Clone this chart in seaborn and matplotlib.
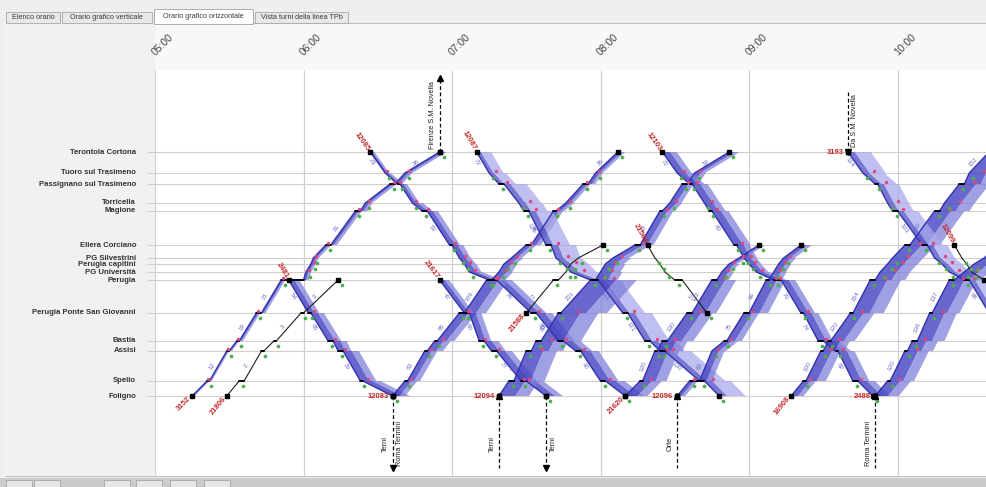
import numpy as np
import pandas as pd
import matplotlib
matplotlib.use("Agg")
import matplotlib.pyplot as plt
import matplotlib.transforms as mtransforms
from matplotlib.patches import Rectangle, Polygon
import seaborn as sns

sns.set_style("white")
plt.rcParams['font.family'] = ['Liberation Sans', 'DejaVu Sans']

# ===========================================================
# DATA
# ===========================================================
STATION_NAMES = ["Foligno", "Spello", "Assisi", "Bastia", "Perugia Ponte San Giovanni",
                 "Perugia", "PG Università", "Perugia capitini", "PG Silvestrini",
                 "Ellera Corciano", "Magione", "Torricella", "Passignano sul Trasimeno",
                 "Tuoro sul Trasimeno", "Terontola Cortona"]
STATION_KEYS = ["FOL", "SPE", "ASS", "BAS", "PSG", "PER", "PGU", "PGC", "PGS",
                "ELL", "MAG", "TOR", "PAS", "TUO", "TER"]
STATION_POS = [0, 15, 45, 55, 83, 116, 124, 132, 138, 151, 185, 193, 212, 223, 244]

HOUR_LABELS = ["05:00", "06:00", "07:00", "08:00", "09:00", "10:00"]
TABS = ["Elenco orario", "Orario grafico verticale", "Orario grafico orizzontale",
        "Vista turni della linea TPb"]

# each train: (station, arrival, departure); loads = passengers on each leg
t3152 = [("FOL", "05:15", "05:15"), ("SPE", "05:21", "05:22"), ("ASS", "05:29", "05:30"),
         ("BAS", "05:33", "05:34"), ("PSG", "05:41", "05:43"), ("PER", "05:51", "06:00"),
         ("PGU", "06:01", "06:01"), ("PGC", "06:03", "06:03"), ("PGS", "06:04", "06:04"),
         ("ELL", "06:09", "06:11"), ("MAG", "06:21", "06:23"), ("TOR", "06:25", "06:25"),
         ("PAS", "06:35", "06:37"), ("TUO", "06:41", "06:41"), ("TER", "06:55", "06:55")]
l3152 = [13, 12, 14, 19, 21, 26, 26, 26, 27, 31, 34, 34, 36, 36]

t2481 = [("PER", "05:54", "05:54"), ("PSG", "06:02", "06:03"), ("BAS", "06:10", "06:12"),
         ("ASS", "06:14", "06:16"), ("SPE", "06:23", "06:24"), ("FOL", "06:36", "06:36")]
l2481 = [54, 65, 67, 79, 87]

t21806 = [("FOL", "05:29", "05:29"), ("SPE", "05:34", "05:36"), ("ASS", "05:43", "05:44"),
          ("BAS", "05:48", "05:49"), ("PSG", "05:59", "06:00"), ("PER", "06:14", "06:14")]
l21806 = [1, 2, 2, 3, 3]

t12085 = [("TER", "06:27", "06:27"), ("TUO", "06:33", "06:33"), ("PAS", "06:38", "06:39"),
          ("TOR", "06:44", "06:44"), ("MAG", "06:48", "06:50"), ("ELL", "06:59", "07:00"),
          ("PGS", "07:03", "07:03"), ("PGC", "07:05", "07:05"), ("PGU", "07:07", "07:07"),
          ("PER", "07:15", "07:18"), ("PSG", "07:32", "07:34"), ("BAS", "07:43", "07:45"),
          ("ASS", "07:50", "07:52"), ("SPE", "08:00", "08:02"), ("FOL", "08:10", "08:10")]
l12085 = [21, 28, 35, 52, 53, 56, 58, 60, 64, 76, 80, 84, 90, 95]

t12083 = [("FOL", "06:36", "06:36"), ("SPE", "06:41", "06:42"), ("ASS", "06:49", "06:50"),
          ("BAS", "06:53", "06:54"), ("PSG", "07:03", "07:05"), ("PER", "07:14", "07:16"),
          ("PGU", "07:19", "07:19"), ("PGC", "07:21", "07:21"), ("PGS", "07:24", "07:24"),
          ("ELL", "07:30", "07:32"), ("MAG", "07:41", "07:42"), ("TOR", "07:46", "07:46"),
          ("PAS", "07:53", "07:55"), ("TUO", "07:58", "07:58"), ("TER", "08:07", "08:07")]
l12083 = [62, 63, 80, 86, 109, 70, 66, 60, 52, 48, 42, 38, 36, 36]

t21617 = [("PER", "06:55", "06:55"), ("PSG", "07:05", "07:07"), ("BAS", "07:11", "07:13"),
          ("ASS", "07:16", "07:18"), ("SPE", "07:28", "07:30"), ("FOL", "07:38", "07:38")]
l21617 = [47, 60, 71, 77, 84]

t12087 = [("TER", "07:10", "07:10"), ("TUO", "07:15", "07:15"), ("PAS", "07:19", "07:21"),
          ("TOR", "07:27", "07:27"), ("MAG", "07:29", "07:31"), ("ELL", "07:38", "07:40"),
          ("PGS", "07:42", "07:42"), ("PGC", "07:45", "07:45"), ("PGU", "07:48", "07:48"),
          ("PER", "07:56", "07:59"), ("PSG", "08:09", "08:11"), ("BAS", "08:18", "08:20"),
          ("ASS", "08:24", "08:26"), ("SPE", "08:40", "08:42"), ("FOL", "08:48", "08:48")]
l12087 = [72, 83, 113, 118, 120, 124, 126, 128, 130, 111, 121, 126, 130, 132]

t12094 = [("FOL", "07:19", "07:19"), ("SPE", "07:23", "07:25"), ("ASS", "07:30", "07:32"),
          ("BAS", "07:34", "07:36"), ("PSG", "07:43", "07:44"), ("PER", "07:56", "07:58"),
          ("PGU", "08:00", "08:00"), ("PGC", "08:02", "08:02"), ("PGS", "08:05", "08:05"),
          ("ELL", "08:14", "08:16"), ("MAG", "08:24", "08:25"), ("TOR", "08:28", "08:28"),
          ("PAS", "08:33", "08:35"), ("TUO", "08:38", "08:38"), ("TER", "08:52", "08:52")]
l12094 = [150, 154, 160, 200, 231, 110, 100, 92, 80, 67, 62, 58, 56, 52]

t21588 = [("PSG", "07:30", "07:30"), ("PER", "07:41", "07:43"), ("PGU", "07:46", "07:46"),
          ("PGC", "07:48", "07:48"), ("PGS", "07:51", "07:51"), ("ELL", "08:01", "08:01")]
l21588 = [2, 2, 2, 2, 2]

t21620 = [("FOL", "08:10", "08:10"), ("SPE", "08:16", "08:17"), ("ASS", "08:22", "08:23"),
          ("BAS", "08:25", "08:27"), ("PSG", "08:35", "08:37"), ("PER", "08:45", "08:47"),
          ("PGU", "08:49", "08:49"), ("PGC", "08:52", "08:52"), ("PGS", "08:56", "08:56"),
          ("ELL", "09:04", "09:04")]
l21620 = [110, 120, 125, 130, 122, 60, 50, 40, 30]

t21564 = [("ELL", "08:19", "08:19"), ("PGS", "08:22", "08:22"), ("PGC", "08:24", "08:24"),
          ("PGU", "08:26", "08:26"), ("PER", "08:30", "08:33"), ("PSG", "08:43", "08:43")]
l21564 = [1, 1, 1, 1, 1]

t12096 = [("FOL", "08:31", "08:31"), ("SPE", "08:36", "08:40"), ("ASS", "08:45", "08:45"),
          ("BAS", "08:50", "08:51"), ("PSG", "08:58", "09:00"), ("PER", "09:07", "09:08"),
          ("PGU", "09:10", "09:10"), ("PGC", "09:12", "09:12"), ("PGS", "09:14", "09:14"),
          ("ELL", "09:21", "09:21")]
l12096 = [40, 63, 70, 75, 96, 65, 62, 60, 55]

t12103 = [("TER", "08:25", "08:25"), ("TUO", "08:31", "08:31"), ("PAS", "08:36", "08:37"),
          ("TOR", "08:42", "08:42"), ("MAG", "08:44", "08:45"), ("ELL", "08:54", "08:55"),
          ("PGS", "08:58", "08:58"), ("PGC", "09:00", "09:00"), ("PGU", "09:03", "09:03"),
          ("PER", "09:10", "09:13"), ("PSG", "09:21", "09:22"), ("BAS", "09:28", "09:30"),
          ("ASS", "09:35", "09:36"), ("SPE", "09:42", "09:44"), ("FOL", "09:50", "09:50")]
l12103 = [72, 75, 78, 80, 83, 65, 62, 60, 63, 70, 74, 78, 82, 85]

t16908 = [("FOL", "09:17", "09:17"), ("SPE", "09:22", "09:23"), ("ASS", "09:29", "09:30"),
          ("BAS", "09:32", "09:33"), ("PSG", "09:41", "09:42"), ("PER", "09:49", "09:51"),
          ("PGU", "09:53", "09:53"), ("PGC", "09:56", "09:56"), ("PGS", "09:58", "09:58"),
          ("ELL", "10:03", "10:05"), ("MAG", "10:15", "10:17"), ("TOR", "10:19", "10:19"),
          ("PAS", "10:25", "10:27"), ("TUO", "10:29", "10:29"), ("TER", "10:37", "10:37")]
l16908 = [63, 100, 108, 120, 154, 150, 150, 152, 155, 150, 150, 152, 152, 152]

t3193 = [("TER", "09:40", "09:40"), ("TUO", "09:46", "09:46"), ("PAS", "09:51", "09:52"),
         ("TOR", "09:56", "09:56"), ("MAG", "09:58", "10:00"), ("ELL", "10:10", "10:12"),
         ("PGS", "10:15", "10:15"), ("PGC", "10:18", "10:18"), ("PGU", "10:21", "10:21"),
         ("PER", "10:27", "10:29"), ("PSG", "10:37", "10:37")]
l3193 = [114, 108, 106, 106, 103, 101, 100, 100, 100, 98]

t2488 = [("FOL", "09:51", "09:51"), ("SPE", "09:56", "09:57"), ("ASS", "10:03", "10:04"),
         ("BAS", "10:06", "10:08"), ("PSG", "10:13", "10:14"), ("PER", "10:21", "10:23"),
         ("PGU", "10:27", "10:27"), ("PGC", "10:31", "10:31"), ("PGS", "10:35", "10:35"),
         ("ELL", "10:41", "10:41")]
l2488 = [117, 120, 128, 136, 137, 130, 128, 128, 128]

t12099 = [("ELL", "10:23", "10:23"), ("PGS", "10:26", "10:26"), ("PGC", "10:28", "10:28"),
          ("PGU", "10:30", "10:30"), ("PER", "10:35", "10:35")]
l12099 = [4, 4, 4, 4]

# name, stops, loads, drawing kind, label style
TRAINS = [
    ("3152", t3152, l3152, "band", "rot"),
    ("2481", t2481, l2481, "band", "rot"),
    ("12085", t12085, l12085, "band", "rot"),
    ("12083", t12083, l12083, "band", "h"),
    ("21617", t21617, l21617, "band", "rot"),
    ("12087", t12087, l12087, "light", "rot"),
    ("12094", t12094, l12094, "band", "h"),
    ("21620", t21620, l21620, "band", "rot"),
    ("12096", t12096, l12096, "band", "h"),
    ("12103", t12103, l12103, "band", "rot"),
    ("16908", t16908, l16908, "band", "rot"),
    ("3193", t3193, l3193, "light", "h"),
    ("2488", t2488, l2488, "band", "h"),
    ("21806", t21806, l21806, "black", "rot"),
    ("21588", t21588, l21588, "black", "rot"),
    ("21564", t21564, l21564, "black", "rot"),
    ("12099", t12099, l12099, "black", "rot"),
]

# connections to/from other lines at the terminals
CONN_TIME = ["06:55", "06:36", "07:19", "07:38", "08:31", "09:51", "09:40"]
CONN_STATION = ["TER", "FOL", "FOL", "FOL", "FOL", "FOL", "TER"]
CONN_DIR = ["out_up", "out_down", "in_up", "out_down", "in_up", "in_up", "in_down"]
CONN_LEFT = ["Firenze S.M. Novella", "Terni", "Terni", "", "Orte", "Roma Termini", ""]
CONN_RIGHT = ["", "Roma Termini", "", "Terni", "", "", "Da S.M. Novella"]

POS = dict(zip(STATION_KEYS, STATION_POS))


def hm(s):
    h, m = s.split(":")
    return int(h) + int(m) / 60.0


# ===========================================================
# FIGURE / WINDOW FRAME
# ===========================================================
W, H = 986, 487
PX_H = 148.5          # pixels per hour
X0, X1, Y0, Y1 = 155, 986, 70, 476

fig = plt.figure(figsize=(W / 100, H / 100), dpi=100)
fig.patch.set_facecolor('#efefef')


def frect(x, y, w, h, **kw):
    kw.setdefault('zorder', -5)
    fig.patches.append(Rectangle((x / W, 1 - (y + h) / H), w / W, h / H,
                                 transform=fig.transFigure, **kw))


frect(5, 23, 981, 453, facecolor='#f8f8f8', edgecolor='#b4b4b4', lw=0.6)
frect(5, 23, 150, 453, facecolor='#f1f1f1', edgecolor='none')
frect(0, 478, 986, 9, facecolor='#cbcbcb', edgecolor='none')
for bx in [6, 34, 104, 136, 170, 204]:
    frect(bx, 480, 26, 7, facecolor='#e6e6e6', edgecolor='#9c9c9c', lw=0.5, zorder=-4)

# tabs
tab_x = [(6, 60), (62, 152), (154, 253), (255, 348)]
for i, (lab, (xa, xb)) in enumerate(zip(TABS, tab_x)):
    if i == 2:
        frect(xa, 9, xb - xa, 15, facecolor='white', edgecolor='#a0a0a0', lw=0.6, zorder=-3)
        ty = 16
    else:
        frect(xa, 12, xb - xa, 11, facecolor='#e8e8e8', edgecolor='#a8a8a8', lw=0.6, zorder=-4)
        ty = 17.5
    fig.text((xa + xb) / 2 / W, 1 - ty / H, lab, ha='center', va='center',
             fontsize=5.2, color='#3a3a3a')

ax = fig.add_axes([X0 / W, 1 - Y1 / H, (X1 - X0) / W, (Y1 - Y0) / H])
ax.set_xlim(5.0, 5.0 + (X1 - X0) / PX_H)
ax.set_ylim(396 - Y1, 396 - Y0)
ax.set_facecolor('white')
for s in ax.spines.values():
    s.set_visible(False)
ax.set_xticks([])
ax.set_yticks([])

# grid: hours and stations
ax.vlines([hm(h) for h in HOUR_LABELS], 396 - Y1, 396 - Y0, color='#d0d0d0', lw=0.9, zorder=1)
ax.hlines(STATION_POS, 5.0 - 8 / PX_H, 5.0 + (X1 - X0) / PX_H, color='#d9cbc5', lw=0.8,
          zorder=1, clip_on=False)

trans_top = mtransforms.blended_transform_factory(ax.transData, fig.transFigure)
for lab in HOUR_LABELS:
    ax.text(hm(lab) + 2 / PX_H, 1 - 57 / H, lab, transform=trans_top, rotation=45,
            rotation_mode='anchor', ha='left', va='bottom', fontsize=7.5,
            color='#454545', clip_on=False)

trans_lab = mtransforms.blended_transform_factory(fig.transFigure, ax.transData)
for name, p in zip(STATION_NAMES, STATION_POS):
    ax.text(136 / W, p, name, transform=trans_lab, ha='right', va='center',
            fontsize=5.6, fontweight='bold', color='#333333', clip_on=False)

# ===========================================================
# TRAINS
# ===========================================================
BAND_K = 0.2   # band width (px, along the time axis) per passenger
BAND_COLORS = {"band": ("#4646c2", "#8080dc", 0.55), "light": ("#5c5cca", "#aaaaed", 0.3)}

for name, stops, loads, kind, lmode in TRAINS:
    st = [(POS[k], hm(a), hm(d)) for k, a, d in stops]
    xs, ys = [], []
    for p, a, d in st:
        xs += [a, d]
        ys += [p, p]

    widths = [ld * BAND_K / PX_H for ld in loads]
    if kind != "black":
        inner, outer, f = BAND_COLORS[kind]
        for i, w in enumerate(widths):
            p1, _, t1 = st[i]
            p2, t2, _ = st[i + 1]
            ax.add_patch(Polygon([(t1, p1), (t2, p2), (t2 + w * f, p2), (t1 + w * f, p1)],
                                 facecolor=inner, edgecolor='none', alpha=0.82, zorder=2))
            ax.add_patch(Polygon([(t1 + w * f, p1), (t2 + w * f, p2), (t2 + w, p2), (t1 + w, p1)],
                                 facecolor=outer, edgecolor='none', alpha=0.75, zorder=2))
        core, lw = '#3232ad', 1.0
    else:
        core, lw = '#1e1e1e', 0.8

    sns.lineplot(x=xs, y=ys, sort=False, estimator=None, ax=ax, color=core, lw=lw,
                 zorder=3, legend=False)

    # stops drawn in black, terminals marked
    for p, a, d in st:
        if d > a:
            ax.plot([a, d], [p, p], color='black', lw=1.3, zorder=4)
    ax.plot([xs[0], xs[-1]], [ys[0], ys[-1]], 's', ms=2.2, color='black', zorder=4)

    # little green/red station markers
    for i, (p, a, d) in enumerate(st[1:], start=1):
        ax.scatter(a + 4 / PX_H, p - 5, s=7, color='#4cae4c', zorder=5, linewidths=0)
        if kind != "black" and i < len(st) - 1:
            ax.scatter(a + widths[i - 1] * 0.5, p + 2, s=6, color='#e2457e', zorder=5,
                       linewidths=0)

    # passenger numbers along legs
    for i, ld in enumerate(loads):
        p1, _, t1 = st[i]
        p2, t2, _ = st[i + 1]
        if abs(p2 - p1) < 20:
            continue
        ang = np.degrees(np.arctan2(p2 - p1, (t2 - t1) * PX_H))
        ax.text((t1 + t2) / 2 - 6 / PX_H, (p1 + p2) / 2, str(ld), rotation=ang,
                rotation_mode='anchor', ha='center', va='center', fontsize=4.6,
                color='#6b6bc6', zorder=6)

    # train number in red
    p1, _, d1 = st[0]
    p2, a2, _ = st[1]
    if lmode == "rot":
        ang = np.degrees(np.arctan2(p2 - p1, (a2 - d1) * PX_H))
        ax.text(d1 - 2 / PX_H, p1 - np.sign(p2 - p1) * 2, name, rotation=ang,
                rotation_mode='anchor', ha='right', va='center', fontsize=5.5,
                fontweight='bold', color='#c42a2a', zorder=6, clip_on=False)
    else:
        ax.text(d1 - 4 / PX_H, p1, name, ha='right', va='center', fontsize=5.5,
                fontweight='bold', color='#c42a2a', zorder=6)

# ===========================================================
# CONNECTIONS
# ===========================================================
for t, k, dr, lt, rt in zip(CONN_TIME, CONN_STATION, CONN_DIR, CONN_LEFT, CONN_RIGHT):
    x = hm(t)
    p = POS[k]
    if k == "FOL":
        far = p - 72
    elif dr == "out_up":
        far = 318
    else:
        far = 306
    ax.plot([x, x], [p, far], ls=(0, (3, 2)), color='black', lw=0.9, zorder=5)
    tip = far if dr.startswith("out") else p
    ax.plot([x], [tip], marker='^' if dr.endswith("up") else 'v', ms=4, color='black',
            zorder=6)
    ax.plot([x], [p], 's', ms=3, color='black', zorder=6)
    mid = p - 48 if k == "FOL" else (p + far) / 2
    if lt:
        ax.text(x - 7 / PX_H, mid, lt, rotation=90, ha='center', va='center',
                fontsize=5.3, color='#222222', zorder=6)
    if rt:
        ax.text(x + 7 / PX_H, mid, rt, rotation=90, ha='center', va='center',
                fontsize=5.3, color='#222222', zorder=6)

fig.savefig("out.png", dpi=100, facecolor=fig.get_facecolor())
